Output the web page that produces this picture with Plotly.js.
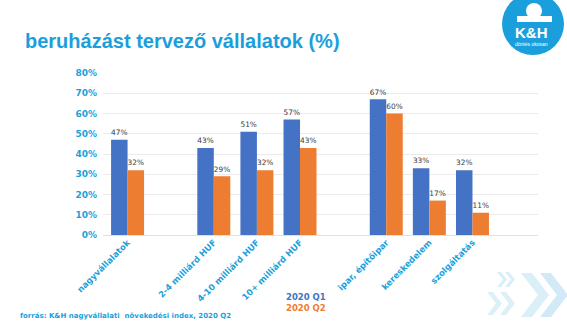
<!DOCTYPE html>
<html><head><meta charset="utf-8">
<script src="https://cdn.plot.ly/plotly-3.0.1.min.js"></script>
<style>html,body{margin:0;padding:0;background:#fff;}#chart{width:567px;height:330px;}</style>
</head><body><div id="chart"></div>
<script>
var categories = ["nagyvállalatok", "", "2-4 milliárd HUF", "4-10 milliárd HUF", "10+ milliárd HUF", "", "ipar, építőipar", "kereskedelem", "szolgáltatás", ""];
var q1 = [47, null, 43, 51, 57, null, 67, 33, 32, null];
var q2 = [32, null, 29, 32, 43, null, 60, 17, 11, null];
var seriesNames = ["2020 Q1", "2020 Q2"];
var yTicks = [0, 10, 20, 30, 40, 50, 60, 70, 80];

var W = 567, H = 330, L = 103, R = 29, T = 73, B = 95;
var PW = W - L - R, PH = H - T - B;
function X(px){ return (px - L) / PW; }
function Y(py){ return (H - B - py) / PH; }

var blue = '#4472c4', orange = '#ed7d31', brand = '#1a9fdc';
var idx = categories.map(function(c, i){ return i; });
var tickIdx = idx.filter(function(i){ return categories[i] !== ""; });
var tickTxt = tickIdx.map(function(i){ return categories[i]; });

function barTrace(vals, name, color){
  return {
    type: 'bar', x: idx, y: vals, name: name,
    marker: {color: color},
    text: vals.map(function(v){ return v === null ? '' : v + '%'; }),
    textposition: 'outside', cliponaxis: false,
    textfont: {family: 'DejaVu Sans', size: 8.5, color: '#404040'},
    hoverinfo: 'none'
  };
}

function chevron(x, yt, yb, t, w, color){
  var ym = (yt + yb) / 2;
  var pts = [[x, yt], [x + t, yt], [x + t + w, ym], [x + t, yb], [x, yb], [x + w, ym]];
  var d = 'M' + pts.map(function(p){ return X(p[0]).toFixed(5) + ',' + Y(p[1]).toFixed(5); }).join(' L') + ' Z';
  return {type: 'path', xref: 'paper', yref: 'paper', path: d, fillcolor: color, line: {width: 0}, layer: 'below'};
}

var shapes = [
  // logo
  {type: 'circle', xref: 'paper', yref: 'paper', x0: X(502), x1: X(564), y0: Y(55), y1: Y(-7), fillcolor: brand, line: {width: 0}},
  {type: 'circle', xref: 'paper', yref: 'paper', x0: X(526), x1: X(542), y0: Y(19), y1: Y(3), fillcolor: '#ffffff', line: {width: 0}},
  {type: 'rect', xref: 'paper', yref: 'paper', x0: X(517), x1: X(552), y0: Y(22), y1: Y(16), fillcolor: '#ffffff', line: {width: 0}},
  // decorative chevrons
  chevron(497, 272, 287, 4, 6, '#d9eef9'),
  chevron(505, 272, 287, 4, 6, '#d9eef9'),
  chevron(487, 292, 315, 6, 9, '#ddf0fa'),
  chevron(500, 292, 315, 6, 9, '#ddf0fa'),
  chevron(521, 273, 317, 11, 17, '#dbeff9'),
  chevron(540, 273, 317, 11, 17, '#d2eaf7')
];

var annotations = [
  {xref: 'paper', yref: 'paper', x: X(23), y: Y(41), xanchor: 'left', yanchor: 'middle', showarrow: false,
   text: '<b>beruházást tervező vállalatok (%)</b>', font: {family: 'Liberation Sans', size: 20, color: brand}},
  {xref: 'paper', yref: 'paper', x: X(531), y: Y(32), xanchor: 'center', yanchor: 'middle', showarrow: false,
   text: '<b>K&amp;H</b>', font: {family: 'Liberation Sans', size: 15, color: '#ffffff'}},
  {xref: 'paper', yref: 'paper', x: X(531), y: Y(44), xanchor: 'center', yanchor: 'middle', showarrow: false,
   text: 'döntés okosan', font: {family: 'Liberation Sans', size: 5, color: '#ffffff'}},
  {xref: 'paper', yref: 'paper', x: X(306), y: Y(297), xanchor: 'center', yanchor: 'middle', showarrow: false,
   text: '<b>' + seriesNames[0] + '</b>', font: {family: 'DejaVu Sans', size: 8.5, color: blue}},
  {xref: 'paper', yref: 'paper', x: X(306), y: Y(307.5), xanchor: 'center', yanchor: 'middle', showarrow: false,
   text: '<b>' + seriesNames[1] + '</b>', font: {family: 'DejaVu Sans', size: 8.5, color: orange}},
  {xref: 'paper', yref: 'paper', x: X(18), y: Y(316), xanchor: 'left', yanchor: 'middle', showarrow: false,
   text: '<b>forrás: K&amp;H nagyvállalati  növekedési index, 2020 Q2</b>', font: {family: 'DejaVu Sans', size: 7, color: brand}}
];

var layout = {
  width: W, height: H,
  margin: {l: L, r: R, t: T, b: B, pad: 0},
  paper_bgcolor: '#ffffff', plot_bgcolor: '#ffffff',
  showlegend: false,
  barmode: 'group', bargap: 0.235, bargroupgap: 0,
  xaxis: {range: [-0.57, 9.52], tickvals: tickIdx, ticktext: tickTxt, tickangle: -45,
          tickfont: {family: 'DejaVu Sans', size: 8.5, color: brand, weight: 'bold'},
          showgrid: false, zeroline: false, showline: false, ticks: '', fixedrange: true},
  yaxis: {range: [0, 80], tickvals: yTicks, ticktext: yTicks.map(function(v){ return v + '%'; }),
          tickfont: {family: 'DejaVu Sans', size: 9, color: brand, weight: 'bold'},
          gridcolor: '#ebebeb', gridwidth: 1, zeroline: true, zerolinecolor: '#e0e0e0', zerolinewidth: 1,
          showline: false, ticks: '', ticklabelstandoff: 5, fixedrange: true},
  shapes: shapes,
  annotations: annotations,
  font: {family: 'DejaVu Sans'}
};

Plotly.newPlot('chart', [barTrace(q1, seriesNames[0], blue), barTrace(q2, seriesNames[1], orange)], layout, {displayModeBar: false, staticPlot: true});
</script>
</body></html>
